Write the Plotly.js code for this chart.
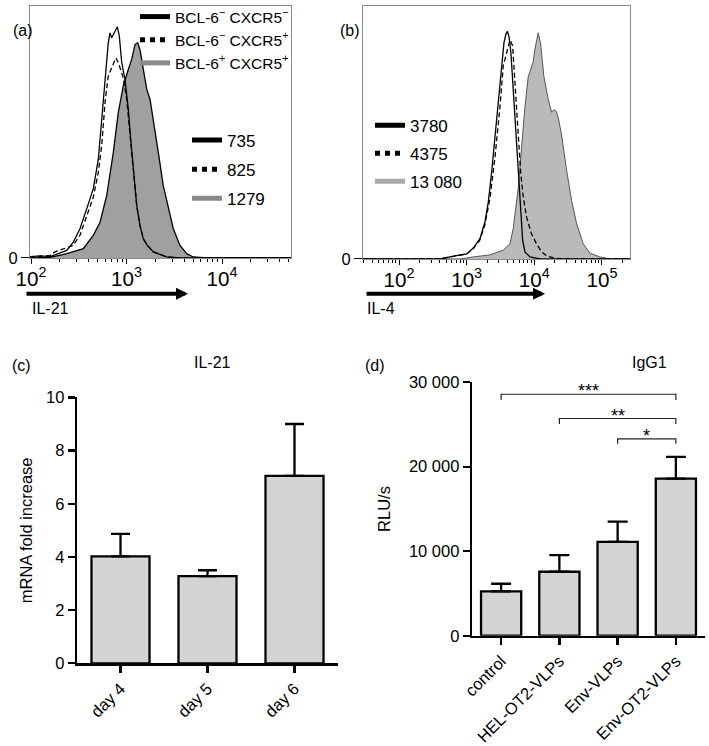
<!DOCTYPE html>
<html><head><meta charset="utf-8">
<script src="https://cdn.plot.ly/plotly-3.0.1.min.js"></script>
<style>html,body{margin:0;padding:0;background:#fff}#chart{width:709px;height:746px}</style>
</head><body><div id="chart"></div>
<script>
// ---------- Panel (a): IL-21 histograms (log10 intensity, % of max) ----------
const aNegLog = [1.99, 2.10, 2.199, 2.374, 2.443, 2.513, 2.583, 2.652, 2.705, 2.740, 2.775, 2.809, 2.827, 2.845, 2.880, 2.904, 2.925, 2.950, 2.984, 3.019, 3.044, 3.071, 3.107, 3.141, 3.176, 3.218, 3.281, 3.421, 3.560, 4.72];
const aNegCnt = [0.5, 0.8, 0.5, 3.0, 6.3, 11.6, 19.5, 27.4, 39.2, 53.8, 70.9, 85.4, 89.3, 87.4, 90.0, 91.7, 88.0, 77.5, 70.9, 59.0, 47.2, 35.3, 20.8, 12.9, 7.6, 5.0, 2.4, 0.4, 0, 0];
const aPosLog = [1.99, 2.199, 2.251, 2.374, 2.443, 2.513, 2.583, 2.652, 2.705, 2.740, 2.775, 2.809, 2.845, 2.862, 2.890, 2.914, 2.939, 2.966, 3.002, 3.037, 3.071, 3.107, 3.141, 3.176, 3.218, 3.281, 3.421, 3.560, 4.72];
const aPosCnt = [0.3, 1.0, 2.4, 4.0, 5.0, 9.0, 16.9, 24.1, 34.0, 44.5, 61.7, 72.2, 75.5, 76.8, 79.4, 77.5, 74.2, 71.5, 63.0, 48.5, 35.3, 20.8, 12.9, 7.6, 5.0, 2.4, 0.4, 0, 0];
const aTfhLog = [1.99, 2.199, 2.374, 2.548, 2.652, 2.723, 2.793, 2.862, 2.914, 2.966, 3.019, 3.054, 3.089, 3.117, 3.141, 3.176, 3.212, 3.246, 3.281, 3.333, 3.385, 3.438, 3.490, 3.560, 3.630, 3.699, 3.840, 4.72];
const aTfhCnt = [0, 0.2, 1.7, 3.7, 9.0, 14.2, 24.8, 41.9, 57.7, 68.3, 74.8, 78.8, 84.7, 85.4, 82.7, 74.8, 66.9, 63.0, 53.8, 41.9, 28.7, 19.5, 11.6, 5.0, 1.7, 0.4, 0, 0];
const aLegendLabels = ['BCL-6<sup>\u2212</sup> CXCR5<sup>\u2212</sup>', 'BCL-6<sup>\u2212</sup> CXCR5<sup>+</sup>', 'BCL-6<sup>+</sup> CXCR5<sup>+</sup>'];
const aMfiLabels = ['735', '825', '1279'];

// ---------- Panel (b): IL-4 histograms ----------
const bNegLog = [1.468, 2.606, 2.827, 3.000, 3.097, 3.196, 3.270, 3.319, 3.369, 3.418, 3.467, 3.517, 3.551, 3.581, 3.603, 3.629, 3.654, 3.679, 3.703, 3.728, 3.750, 3.773, 3.798, 3.827, 3.861, 3.935, 4.083, 5.414];
const bNegCnt = [0, 0, 1.2, 2.0, 4.3, 8.0, 14.6, 22.4, 34.3, 48.0, 63.8, 77.6, 85.4, 89.0, 90.0, 87.4, 81.5, 71.0, 60.5, 48.7, 38.2, 26.4, 15.9, 7.5, 2.8, 0.8, 0, 0];
const bPosLog = [1.468, 2.606, 3.000, 3.097, 3.196, 3.270, 3.344, 3.418, 3.492, 3.541, 3.591, 3.615, 3.640, 3.679, 3.713, 3.738, 3.762, 3.798, 3.836, 3.886, 3.960, 4.034, 4.108, 4.182, 4.304, 4.526, 5.414];
const bPosCnt = [0, 0, 2.0, 4.0, 7.5, 13.5, 24, 40, 60, 76.4, 81.5, 84.3, 86.6, 84.3, 69.7, 57.9, 46.1, 34.3, 24.4, 16.5, 9.8, 5.9, 2.8, 1.2, 0.3, 0, 0];
const bTfhLog = [1.468, 2.901, 3.097, 3.344, 3.541, 3.640, 3.688, 3.762, 3.812, 3.861, 3.910, 3.960, 3.984, 4.009, 4.034, 4.058, 4.093, 4.142, 4.206, 4.256, 4.290, 4.319, 4.353, 4.403, 4.477, 4.551, 4.625, 4.722, 4.821, 4.969, 5.117, 5.414];
const bTfhCnt = [0, 0, 0.8, 1.6, 3.5, 6, 12, 28, 44, 60, 72, 76, 78, 83, 87, 89.4, 85, 72, 63, 58, 59, 58.5, 56, 49, 35, 23, 14, 6, 2.3, 0.8, 0, 0];
const bMfiLabels = ['3780', '4375', '13 080'];

// ---------- Panel (c): IL-21 mRNA ----------
const days = ['day 4', 'day 5', 'day 6'];
const il21Mean = [4.02, 3.28, 7.05];
const il21Err = [0.85, 0.22, 1.95];

// ---------- Panel (d): IgG1 ----------
const groups = ['control', 'HEL-OT2-VLPs', 'Env-VLPs', 'Env-OT2-VLPs'];
const igg1Mean = [5250, 7570, 11100, 18600];
const igg1Err = [900, 1970, 2400, 2550];
const igg1Ticks = [0, 10000, 20000, 30000];
const igg1TickText = ['0', '10 000', '20 000', '30 000'];
const sigFrom = ['control', 'HEL-OT2-VLPs', 'Env-VLPs'];
const sigTo = ['Env-OT2-VLPs', 'Env-OT2-VLPs', 'Env-OT2-VLPs'];
const sigTop = [28570, 25700, 23300];
const sigLeg = [27900, 25040, 22700];
const sigLabel = ['***', '**', '*'];

// ---------- build ----------
const FONT = 'Liberation Sans, Arial, Helvetica, sans-serif';
const W = 709, H = 746;
const px = v => v / W, py = v => 1 - v / H;
const pow10 = arr => arr.map(v => Math.pow(10, v));
const none = [null];

const traces = [];
// Panel a
traces.push({x: pow10(aTfhLog), y: aTfhCnt, xaxis: 'x', yaxis: 'y', type: 'scatter', mode: 'lines', fill: 'tozeroy', fillcolor: '#a0a0a0', line: {color: '#000', width: 1.3}, showlegend: false});
traces.push({x: pow10(aPosLog), y: aPosCnt, xaxis: 'x', yaxis: 'y', type: 'scatter', mode: 'lines', line: {color: '#000', width: 1.3, dash: '5px,3px'}, showlegend: false});
traces.push({x: pow10(aNegLog), y: aNegCnt, xaxis: 'x', yaxis: 'y', type: 'scatter', mode: 'lines', line: {color: '#000', width: 1.3}, showlegend: false});
// Panel b
traces.push({x: pow10(bTfhLog), y: bTfhCnt, xaxis: 'x2', yaxis: 'y2', type: 'scatter', mode: 'lines', fill: 'tozeroy', fillcolor: '#bababa', line: {color: '#555', width: 1}, showlegend: false});
traces.push({x: pow10(bPosLog), y: bPosCnt, xaxis: 'x2', yaxis: 'y2', type: 'scatter', mode: 'lines', line: {color: '#000', width: 1.3, dash: '5px,3px'}, showlegend: false});
traces.push({x: pow10(bNegLog), y: bNegCnt, xaxis: 'x2', yaxis: 'y2', type: 'scatter', mode: 'lines', line: {color: '#000', width: 1.3}, showlegend: false});

// legend-only entries
const legStyles = [{color: '#000', dash: 'solid'}, {color: '#000', dash: 'dot'}, {color: '#8a8a8a', dash: 'solid'}];
const legStylesB = [{color: '#000', dash: 'solid'}, {color: '#000', dash: 'dot'}, {color: '#aaaaaa', dash: 'solid'}];
aLegendLabels.forEach((t, i) => traces.push({x: none, y: none, xaxis: 'x', yaxis: 'y', type: 'scatter', mode: 'lines', name: t, legend: 'legend', legendgroup: 'la' + i, line: {color: legStyles[i].color, dash: legStyles[i].dash, width: 5}}));
aMfiLabels.forEach((t, i) => traces.push({x: none, y: none, xaxis: 'x', yaxis: 'y', type: 'scatter', mode: 'lines', name: t, legend: 'legend2', legendgroup: 'lm' + i, line: {color: legStyles[i].color, dash: legStyles[i].dash, width: 5}}));
bMfiLabels.forEach((t, i) => traces.push({x: none, y: none, xaxis: 'x2', yaxis: 'y2', type: 'scatter', mode: 'lines', name: t, legend: 'legend3', legendgroup: 'lb' + i, line: {color: legStylesB[i].color, dash: legStylesB[i].dash, width: 5}}));

// Panel c
traces.push({x: days, y: il21Mean, xaxis: 'x3', yaxis: 'y3', type: 'bar', width: 0.667, marker: {color: '#d4d4d4', line: {color: '#000', width: 2.3}},
  error_y: {type: 'data', array: il21Err, arrayminus: il21Err.map(() => 0), symmetric: false, color: '#000', thickness: 2.3, width: 9.5}, showlegend: false});
// Panel d
traces.push({x: groups, y: igg1Mean, xaxis: 'x4', yaxis: 'y4', type: 'bar', width: 0.69, marker: {color: '#d4d4d4', line: {color: '#000', width: 2.3}},
  error_y: {type: 'data', array: igg1Err, arrayminus: igg1Err.map(() => 0), symmetric: false, color: '#000', thickness: 2.3, width: 10}, showlegend: false});
// significance brackets
sigFrom.forEach((f, i) => traces.push({x: [f, f, sigTo[i], sigTo[i]], y: [sigLeg[i], sigTop[i], sigTop[i], sigLeg[i]], xaxis: 'x4', yaxis: 'y4', type: 'scatter', mode: 'lines', line: {color: '#222', width: 1.2}, showlegend: false}));

const tickFont = {family: FONT, size: 16.5, color: '#000'};
const logX = (dom, rng) => ({domain: dom, type: 'log', range: rng, dtick: 1, exponentformat: 'power', showline: true, mirror: true, linecolor: '#8a8a8a', linewidth: 1,
  ticks: 'outside', ticklen: 5, tickcolor: '#000', tickwidth: 1, showgrid: false, zeroline: false, tickfont: tickFont, ticklabelstandoff: -2,
  minor: {ticks: 'outside', ticklen: 3, tickcolor: '#000', tickwidth: 1, showgrid: false}});
const histY = (dom, anchor) => ({domain: dom, range: [0, 100], tickvals: [0], ticktext: ['0'], showline: true, mirror: true, linecolor: '#8a8a8a', linewidth: 1,
  ticks: 'outside', ticklen: 8, tickcolor: '#000', showgrid: false, zeroline: false, tickfont: tickFont, anchor: anchor});
const barAxis = {showline: true, linecolor: '#000', linewidth: 2.3, ticks: 'outside', ticklen: 7, tickwidth: 2.3, tickcolor: '#000', showgrid: false, zeroline: false, tickfont: tickFont};

const legendBase = {bgcolor: 'rgba(0,0,0,0)', borderwidth: 0, xanchor: 'left', yanchor: 'top', traceorder: 'grouped', itemwidth: 30};

const layout = {
  width: W, height: H, margin: {l: 0, r: 0, t: 0, b: 0}, paper_bgcolor: '#fff', plot_bgcolor: 'rgba(0,0,0,0)',
  font: {family: FONT, color: '#000'}, showlegend: true, bargap: 0,
  xaxis: Object.assign(logX([px(30), px(291)], [1.9895, 4.7225]), {anchor: 'y'}),
  yaxis: histY([py(256), py(3)], 'x'),
  xaxis2: Object.assign(logX([px(363), px(630)], [1.468, 5.414]), {anchor: 'y2'}),
  yaxis2: histY([py(257), py(3)], 'x2'),
  xaxis3: Object.assign({}, barAxis, {domain: [px(77), px(338)], type: 'category', range: [-0.5, 2.5], tickangle: -45, anchor: 'y3'}),
  yaxis3: Object.assign({}, barAxis, {domain: [py(663), py(396)], range: [0, 10], dtick: 2, anchor: 'x3',
    title: {text: 'mRNA fold increase', font: {family: FONT, size: 16.5, color: '#000'}, standoff: 9}}),
  xaxis4: Object.assign({}, barAxis, {domain: [px(472), px(705)], type: 'category', range: [-0.5, 3.5], tickangle: -45, anchor: 'y4'}),
  yaxis4: Object.assign({}, barAxis, {domain: [py(635.3), py(380.7)], range: [0, 30000], tickvals: igg1Ticks, ticktext: igg1TickText, anchor: 'x4',
    title: {text: 'RLU/s', font: {family: FONT, size: 16.5, color: '#000'}, standoff: 14}}),
  legend: Object.assign({}, legendBase, {x: px(135), y: py(-3), tracegroupgap: 0, font: {family: FONT, size: 15.5, color: '#000'}}),
  legend2: Object.assign({}, legendBase, {x: px(187), y: py(120), tracegroupgap: 4, font: {family: FONT, size: 17, color: '#000'}}),
  legend3: Object.assign({}, legendBase, {x: px(370), y: py(105), tracegroupgap: 3, font: {family: FONT, size: 17, color: '#000'}}),
  annotations: [
    {text: '(a)', x: px(11), y: py(17), xref: 'paper', yref: 'paper', showarrow: false, font: {size: 16}},
    {text: '(b)', x: px(350), y: py(17), xref: 'paper', yref: 'paper', showarrow: false, font: {size: 16}},
    {text: '(c)', x: px(10), y: py(364), xref: 'paper', yref: 'paper', showarrow: false, font: {size: 16}},
    {text: '(d)', x: px(375), y: py(364), xref: 'paper', yref: 'paper', showarrow: false, font: {size: 16}},
    {text: 'IL-21', x: px(192), y: py(361), xref: 'paper', yref: 'paper', showarrow: false, font: {size: 16}},
    {text: 'IgG1', x: px(669), y: py(361), xref: 'paper', yref: 'paper', showarrow: false, font: {size: 16}},
    {text: 'IL-21', x: px(30), y: py(307), xref: 'paper', yref: 'paper', xanchor: 'left', showarrow: false, font: {size: 16}},
    {text: 'IL-4', x: px(365), y: py(307), xref: 'paper', yref: 'paper', xanchor: 'left', showarrow: false, font: {size: 16}},
    {text: '', x: px(188), y: py(292), ax: px(25), ay: py(292), xref: 'paper', yref: 'paper', axref: 'paper', ayref: 'paper', showarrow: true, arrowhead: 2, arrowsize: 0.6, arrowwidth: 4, arrowcolor: '#000', standoff: 0},
    {text: '', x: px(545), y: py(292), ax: px(365), ay: py(292), xref: 'paper', yref: 'paper', axref: 'paper', ayref: 'paper', showarrow: true, arrowhead: 2, arrowsize: 0.6, arrowwidth: 4, arrowcolor: '#000', standoff: 0}
  ]
};
// star labels centred over each bracket
sigFrom.forEach((f, i) => {
  const mid = (groups.indexOf(f) + groups.indexOf(sigTo[i])) / 2;
  layout.annotations.push({text: sigLabel[i], x: mid, y: sigTop[i], xref: 'x4', yref: 'y4', showarrow: false, yanchor: 'middle', yshift: 3, font: {size: 18}});
});

Plotly.newPlot('chart', traces, layout, {staticPlot: true});
</script>
</body></html>
